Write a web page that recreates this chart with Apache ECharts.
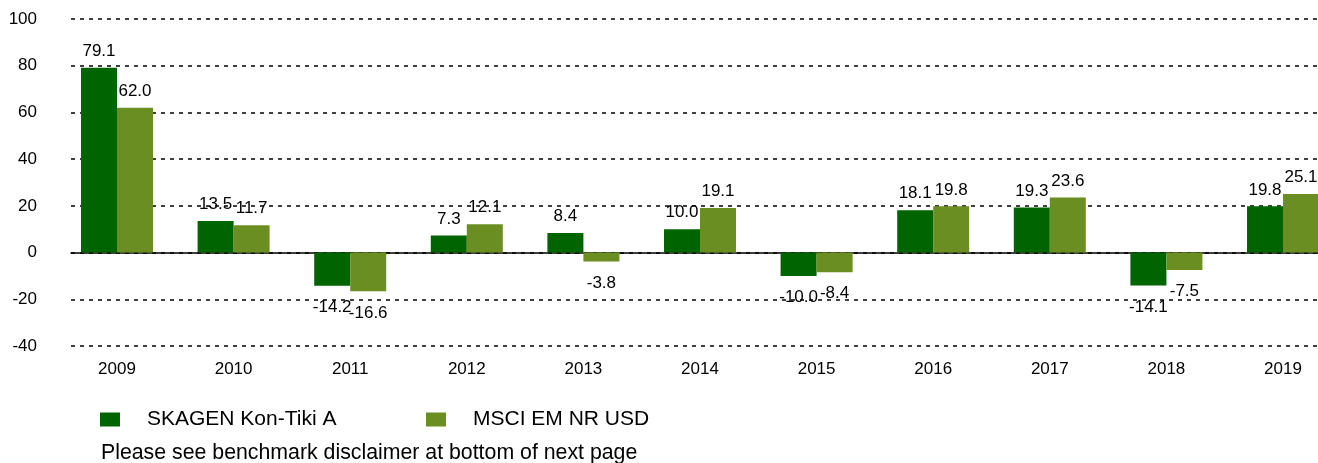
<!DOCTYPE html>
<html>
<head>
<meta charset="utf-8">
<script src="https://cdn.jsdelivr.net/npm/echarts@6/dist/echarts.min.js"></script>
<style>html,body{margin:0;padding:0;background:#fff;}#c{width:1318px;height:463px;}</style>
</head>
<body>
<div id="c"></div>
<script>
const categories = ['2009','2010','2011','2012','2013','2014','2015','2016','2017','2018','2019'];
const skagen = [79.1, 13.5, -14.2, 7.3, 8.4, 10.0, -10.0, 18.1, 19.3, -14.1, 19.8];
const msci = [62.0, 11.7, -16.6, 12.1, -3.8, 19.1, -8.4, 19.8, 23.6, -7.5, 25.1];
const seriesNames = ['SKAGEN Kon-Tiki A', 'MSCI EM NR USD'];
const footnote = 'Please see benchmark disclaimer at bottom of next page';

const FONT = 'Liberation Sans, Arial, sans-serif';
const YMIN = -40, YMAX = 100, YINT = 20;

function toItems(arr) {
  return arr.map(v => ({
    value: v,
    label: v >= 0 ? {position: 'top', distance: 8} : {position: 'bottom', distance: 13}
  }));
}

const chart = echarts.init(document.getElementById('c'));
chart.setOption({
  animation: false,
  backgroundColor: '#fff',
  textStyle: {fontFamily: FONT},
  grid: [
    {left: 58.7, width: 1282.6, top: 19, height: 327, outerBoundsMode: 'none', containLabel: false},
    {left: 71, right: 0, top: 19, height: 327, outerBoundsMode: 'none'}
  ],
  xAxis: [
    {type: 'category', gridIndex: 0, data: categories,
     axisLine: {show: false}, axisTick: {show: false},
     axisLabel: {color: '#000', fontSize: 17, fontFamily: FONT, margin: 15}},
    {type: 'value', gridIndex: 1, min: 0, max: 1, show: true,
     axisLine: {show: true, onZero: true, lineStyle: {color: '#000', width: 1.5}},
     axisTick: {show: false}, axisLabel: {show: false}, splitLine: {show: false}}
  ],
  yAxis: [
    {type: 'value', gridIndex: 0, min: YMIN, max: YMAX, interval: YINT, show: false},
    {type: 'value', gridIndex: 1, min: YMIN, max: YMAX, interval: YINT,
     axisLine: {show: false}, axisTick: {show: false},
     axisLabel: {color: '#000', fontSize: 17, fontFamily: FONT, margin: 34},
     splitLine: {show: true, lineStyle: {color: '#000', width: 1.5, type: [4, 5]}}}
  ],
  legend: [
    {data: [seriesNames[0]], left: 100, top: 409, padding: 0, itemWidth: 20, itemHeight: 14,
     icon: 'rect', textStyle: {fontSize: 21, color: '#000', fontFamily: FONT, padding: [0, 0, 0, 22]}},
    {data: [seriesNames[1]], left: 426, top: 409, padding: 0, itemWidth: 20, itemHeight: 14,
     icon: 'rect', textStyle: {fontSize: 21, color: '#000', fontFamily: FONT, padding: [0, 0, 0, 22]}}
  ],
  graphic: [
    {type: 'text', left: 101, top: 443,
     style: {text: footnote, font: '21.3px ' + FONT, fill: '#000'}}
  ],
  series: [
    {name: seriesNames[0], type: 'bar', xAxisIndex: 0, yAxisIndex: 0,
     data: toItems(skagen), barWidth: 36, barGap: '0%', itemStyle: {color: '#006400'},
     label: {show: true, color: '#000', fontSize: 17, fontFamily: FONT,
       formatter: p => p.value.toFixed(1)}, z: 3},
    {name: seriesNames[1], type: 'bar', xAxisIndex: 0, yAxisIndex: 0,
     data: toItems(msci), barWidth: 36, barGap: '0%', itemStyle: {color: '#6B8E23'},
     label: {show: true, color: '#000', fontSize: 17, fontFamily: FONT,
       formatter: p => p.value.toFixed(1)}, z: 3}
  ]
});
</script>
</body>
</html>
